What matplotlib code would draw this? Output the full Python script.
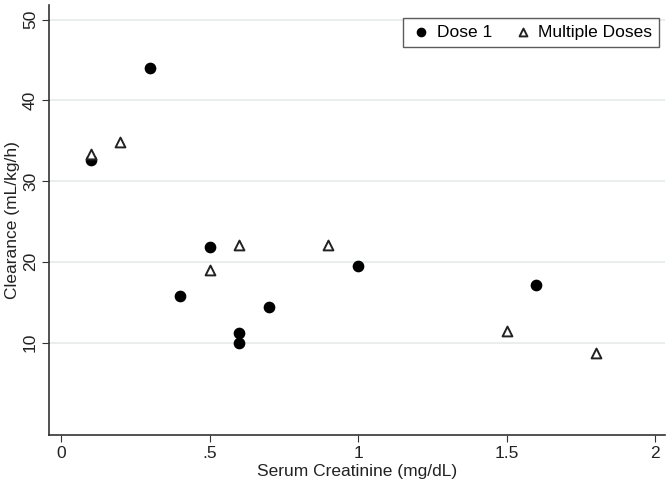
import matplotlib
matplotlib.use("Agg")
import matplotlib.pyplot as plt

plt.rcParams['font.family'] = ['Liberation Sans', 'DejaVu Sans']

dose1_x = [0.1, 0.3, 0.4, 0.5, 0.6, 0.6, 0.7, 1.0, 1.6]
dose1_y = [32.6, 44.0, 15.7, 21.8, 11.2, 9.9, 14.4, 19.5, 17.1]
multi_x = [0.1, 0.2, 0.5, 0.6, 0.9, 1.5, 1.8]
multi_y = [33.3, 34.8, 19.0, 22.1, 22.1, 11.4, 8.7]
xticks = [0, 0.5, 1, 1.5, 2]
xticklabels = ["0", ".5", "1", "1.5", "2"]
yticks = [10, 20, 30, 40, 50]

FS = 12.5

fig = plt.figure(figsize=(6.72, 5.04), dpi=100)
ax = fig.add_axes([0.073, 0.137, 0.917, 0.853])

ax.scatter(dose1_x, dose1_y, s=55, color='black', marker='o', zorder=3, label='Dose 1')
ax.scatter(multi_x, multi_y, s=50, facecolor='white', edgecolor='#222222', linewidths=1.4,
           marker='^', zorder=3, label='Multiple Doses')

ax.set_xlim(-0.04, 2.034)
ax.set_ylim(-1.45, 51.8)
ax.set_xticks(xticks)
ax.set_xticklabels(xticklabels)
ax.set_yticks(yticks)
ax.set_yticklabels([str(v) for v in yticks], rotation=90, va='center')
ax.tick_params(axis='both', labelsize=FS, length=5, color='#333333', labelcolor='#222222', pad=3)
ax.grid(axis='y', color='#e6eaea', linewidth=1.2)
ax.set_axisbelow(True)
for s in ['top', 'right']:
    ax.spines[s].set_visible(False)
for s in ['left', 'bottom']:
    ax.spines[s].set_color('#333333')
    ax.spines[s].set_linewidth(1.2)

ax.set_xlabel('Serum Creatinine (mg/dL)', fontsize=FS, color='#222222', labelpad=2)
ax.set_ylabel('Clearance (mL/kg/h)', fontsize=FS, color='#222222', labelpad=2)

leg = ax.legend(loc='upper right', bbox_to_anchor=(0.99, 0.97), borderaxespad=0.0, ncol=2,
                fontsize=FS, frameon=True, fancybox=False, edgecolor='#333333',
                handletextpad=0.25, columnspacing=1.1, borderpad=0.4, markerscale=0.8,
                handlelength=1.3)
leg.get_frame().set_linewidth(1.0)

fig.savefig('out.png', dpi=100)
